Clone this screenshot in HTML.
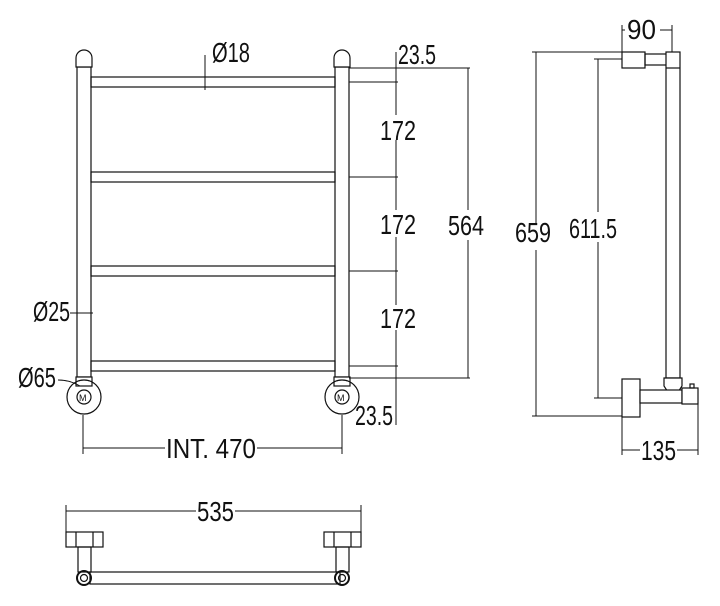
<!DOCTYPE html>
<html><head><style>html,body{margin:0;padding:0;background:#fff}svg{display:block}</style></head><body>
<svg width="720" height="606" viewBox="0 0 720 606" xmlns="http://www.w3.org/2000/svg" font-family="Liberation Sans, sans-serif" font-size="28" fill="none" stroke="#111" stroke-width="1.2">
<rect x="77" y="67" width="14" height="310" fill="#fff"/>
<rect x="335" y="67" width="14" height="310" fill="#fff"/>
<path d="M76,67 v-9 a8,8 0 0 1 16,0 v9 z" fill="#fff"/>
<path d="M334,67 v-9 a8,8 0 0 1 16,0 v9 z" fill="#fff"/>
<rect x="91" y="77" width="244" height="10"/>
<rect x="91" y="172" width="244" height="10"/>
<rect x="91" y="266" width="244" height="10"/>
<rect x="91" y="361" width="244" height="10"/>
<g>
<rect x="76" y="377" width="16" height="9" fill="#fff"/>
<circle cx="84" cy="397" r="17"/><circle cx="84" cy="397" r="7"/>
<text x="79" y="401" font-size="9" stroke="none" fill="#111">M</text>
<rect x="334" y="377" width="16" height="9" fill="#fff"/>
<circle cx="342" cy="397" r="17"/><circle cx="342" cy="397" r="7"/>
<text x="337" y="401" font-size="9" stroke="none" fill="#111">M</text>
</g>
<g stroke-width="1">
<path d="M205,55 V90"/>
<path d="M70,313 H93"/>
<path d="M58,380 Q70,380 80,386"/>
<path d="M83,415 V454 M342,415 V454 M83,448 H165 M257,448 H342"/>
<path d="M349,68 H470 M349,82 H398 M349,177 H398 M349,271 H398 M349,366 H398 M349,378 H470"/>
<path d="M396,52 V115 M396,140 V210 M396,237 V305 M396,330 V425"/>
<path d="M468,68 V210 M468,240 V378"/>
</g>
<g stroke="none" fill="#111">
<text x="212" y="62" textLength="38" lengthAdjust="spacingAndGlyphs">Ø18</text>
<text x="33" y="321" textLength="37" lengthAdjust="spacingAndGlyphs">Ø25</text>
<text x="18" y="387" textLength="38" lengthAdjust="spacingAndGlyphs">Ø65</text>
<text x="166" y="458" textLength="90" lengthAdjust="spacingAndGlyphs">INT. 470</text>
<text x="398" y="64" textLength="38" lengthAdjust="spacingAndGlyphs">23.5</text>
<text x="355" y="425" textLength="38" lengthAdjust="spacingAndGlyphs">23.5</text>
<text x="380" y="140" textLength="36" lengthAdjust="spacingAndGlyphs">172</text>
<text x="380" y="234" textLength="36" lengthAdjust="spacingAndGlyphs">172</text>
<text x="380" y="328" textLength="36" lengthAdjust="spacingAndGlyphs">172</text>
<text x="448" y="235" textLength="36" lengthAdjust="spacingAndGlyphs">564</text>
<text x="515" y="242" textLength="36" lengthAdjust="spacingAndGlyphs">659</text>
<text x="569" y="238" textLength="48" lengthAdjust="spacingAndGlyphs">611.5</text>
<text x="627" y="39" textLength="29" lengthAdjust="spacingAndGlyphs">90</text>
<text x="641" y="460" textLength="35" lengthAdjust="spacingAndGlyphs">135</text>
<text x="197" y="521" textLength="37" lengthAdjust="spacingAndGlyphs">535</text>
</g>
<g>
<rect x="622" y="52" width="23" height="16"/>
<rect x="645" y="54" width="27" height="11"/>
<rect x="666" y="52" width="14" height="326" fill="#fff"/>
<path d="M666,68 H680"/>
<path d="M664,378 H682 V386 L673,400 L664,386 Z" fill="#fff"/>
<rect x="622" y="379" width="18" height="38" fill="#fff"/>
<rect x="640" y="390" width="42" height="13" fill="#fff"/>
<rect x="682" y="388" width="16" height="16" fill="#fff"/>
<rect x="690" y="384" width="4" height="4"/>
</g>
<g stroke-width="1">
<path d="M536,52 V225 M536,250 V416 M532,52 H622 M532,416 H622"/>
<path d="M598,59 V212 M598,242 V398 M594,59 H622 M594,398 H622"/>
<path d="M622,25 V52 M672,25 V52 M622,30 H625 M660,30 H672"/>
<path d="M622,417 V455 M698,404 V455 M622,450 H640 M677,450 H698"/>
</g>
<g>
<path d="M66,505 V532 M361,505 V532" stroke-width="1"/>
<path d="M66,511 H196 M235,511 H361" stroke-width="1"/>
<rect x="66" y="532" width="37" height="15"/><path d="M76,532 V547 M93,532 V547"/>
<rect x="78" y="547" width="13" height="25"/>
<rect x="324" y="532" width="37" height="15"/><path d="M334,532 V547 M351,532 V547"/>
<rect x="336" y="547" width="13" height="25"/>
<rect x="90" y="572" width="250" height="12"/>
<circle cx="84" cy="578" r="7" stroke-width="2"/><circle cx="84" cy="578" r="3.5"/>
<circle cx="342" cy="578" r="7" stroke-width="2"/><circle cx="342" cy="578" r="3.5"/>
</g>
</svg>
</body></html>
